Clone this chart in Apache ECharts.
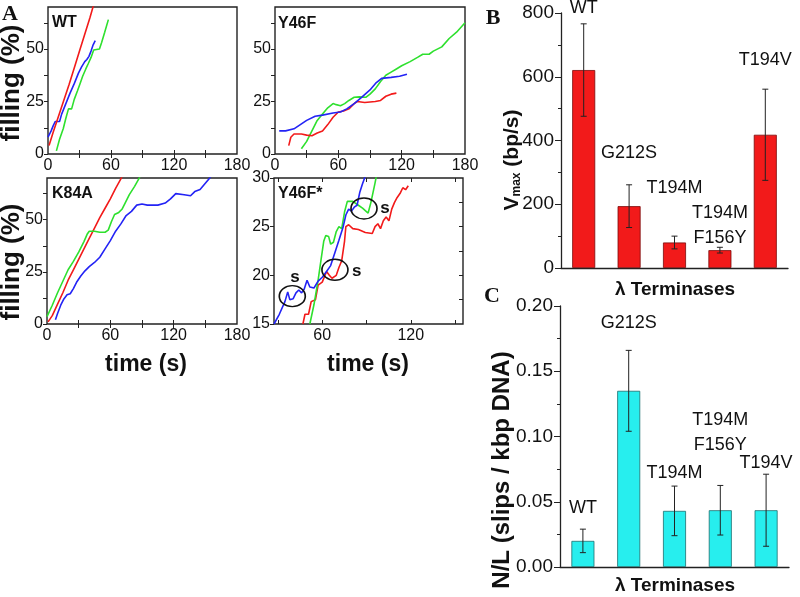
<!DOCTYPE html>
<html><head><meta charset="utf-8">
<script src="https://cdn.jsdelivr.net/npm/echarts@6/dist/echarts.min.js"></script>
<style>html,body{margin:0;padding:0;background:#fff}#c{width:800px;height:597px}</style>
</head><body><div id="c"></div>
<script>
// ---------- Panel A data (time s, filling %) ----------
const wtRed = [[1,4],[5,10.5],[10,18],[15,25.5],[20,33],[25,41],[30,49],[35,57],[40,65],[44,72]];
const wtBlue = [[0,8],[3,11],[5,13.5],[7,15.5],[11,15.5],[13,19],[17,24],[21,29],[25,33.5],[29,38.5],[32,41.5],[35,44],[37,45],[39,46.5],[41,49],[43,52],[45,54]];
const wtGreen = [[8,1.5],[11,7],[14.5,12],[17,17],[19.5,21.5],[22.5,21.5],[25,26],[28,30],[30.5,33.5],[33,37],[36,40.5],[38.5,43.2],[41,46],[43.5,49.5],[45,50],[49,50],[51,53],[54,58],[57.5,64]];

const y46fRed = [[13,4],[15,8],[18,9.5],[25,9.5],[30,9],[35,8.7],[40,10],[45,11],[50,14],[55,17.5],[60,20],[65,20.5],[70,21.5],[75,24],[78,25],[85,24.5],[95,25],[100,25.5],[105,27.5],[110,28.5],[115,29]];
const y46fBlue = [[4,11],[10,11],[18,12],[24,14],[30,16],[38,18],[45,18.5],[55,19.5],[62,20],[68,21.5],[75,24],[82,27],[90,30.5],[96,34],[101,36],[110,36.5],[118,37],[125,38]];
const y46fGreen = [[25,2.5],[30,6],[35,11],[40,16],[45,19],[50,22],[55,24],[58,23.5],[62,23],[66,24],[70,25.5],[75,27],[80,27.2],[86,27],[90,28.5],[95,31],[100,34.5],[105,37.5],[110,39],[115,40.5],[120,42],[128,44],[135,46],[140,47.5],[146,47.5],[150,49],[158,51],[165,55],[172,58],[180,62.5]];

const k84aRed = [[1,1],[5,4],[10,9.5],[15,15],[20,21],[25,26],[30,31],[35,36],[40,41],[45,46],[50,51],[55,55.5],[60,60],[65,65],[71,70.5]];
const k84aGreen = [[0,3.5],[5,9],[10,15],[15,20.5],[20,26],[25,30],[30,34.5],[35,39.5],[38,43],[40,44.5],[45,44.5],[50,44],[55,44],[58,45],[61,49],[64,52.5],[68,53.5],[71,55],[74,58],[78,62],[83,66],[88,70.5]];
const k84aBlue = [[8,2],[10,5],[13,9],[16,12],[19,14],[22,14.5],[25,17],[28,20],[32,23],[36,25.5],[40,27.5],[45,29.5],[50,32],[55,36],[60,40],[65,44.5],[70,48],[75,52],[80,54],[85,57],[90,57.5],[95,57],[100,57],[105,57],[112,58],[117,60],[122,62.5],[130,62],[136,61.5],[140,63.5],[145,64.5],[150,67.5],[155,70.5]];

const y46fsBlue = [[27.3,15],[30.9,16],[34.7,17.3],[36.6,18.3],[38,17.5],[40.3,17.6],[42.2,18.2],[44.1,18.5],[46,18.2],[47.8,18.6],[49.7,19.5],[51.6,18.8],[54.4,18.7],[57.2,19.4],[60,19.8],[62.9,20.4],[65.7,21],[68.5,22.3],[71.3,23.6],[74.2,25],[76,26.2],[77.9,26.8],[79.8,26.6],[81.7,27],[83.6,27.2],[85.4,28.5],[87.3,29.4],[89.2,30.2]];
const y46fsRed = [[46.9,15],[48.3,16],[50.7,16],[52.5,17.3],[55.4,17.5],[57.2,19],[60,19.3],[62.9,20.4],[64.8,20],[66.6,19.7],[69.5,20],[71.3,20.8],[73.2,21.5],[75.1,23.5],[76,25],[77.9,25.2],[80.7,24.8],[84.5,24.7],[89.2,24.4],[93.9,24.3],[95.8,25],[97.7,25.3],[99.5,24.8],[101.4,25.6],[103.3,26],[105.2,25.6],[107.1,26.8],[109,27.5],[110.8,28],[112.7,28.4],[114.6,29],[116.5,28.8],[118.3,29.2]];
const y46fsGreen = [[51.6,15],[54.4,17],[57.2,19.5],[59.1,21.5],[61,23.5],[62.4,24.1],[64.3,24],[65.7,23.2],[67.6,23.4],[69.5,24.5],[71.3,25],[73.2,24.8],[75.1,26.5],[77,27.6],[80.7,27.6],[84.5,27.2],[87.3,26.9],[91.1,26.4],[93,27.5],[95.8,29.5],[97.7,31]];
const slipCircles = [[39.7,17.86],[68.6,20.57],[88.3,26.87]];
const slipLabels = [[41.5,19.75],[83.3,20.4],[102.5,26.9]];

// ---------- Panel B / C data ----------
const terminases = ['WT','G212S','T194M','T194M\nF156Y','T194V'];
const vmax = [621, 194, 80, 56, 418];
const vmaxErr = [145, 67, 20, 9, 143];
const vmaxLabelY = [816, 360, 251, 132, 653];
const slips = [0.020, 0.135, 0.043, 0.0435, 0.0435];
const slipsErr = [0.009, 0.031, 0.019, 0.019, 0.0276];
const slipsLabelY = [0.045, 0.187, 0.072, 0.103, 0.0795];

const RED='#f21a1a', GREEN='#2ee02e', BLUE='#2323f5', INK='#111';
const FF = "'Liberation Sans', Arial, sans-serif";

const grids = [
  {left:48, top:7, width:189, height:147},
  {left:275, top:7, width:190, height:147},
  {left:47, top:178, width:190, height:146},
  {left:274, top:178, width:189, height:146},
  {left:561, top:13, width:227, height:255},
  {left:560, top:306, width:229, height:261}
];
grids.forEach((g,i)=>{ if(i<4){ g.show=true; g.borderColor='#222'; g.borderWidth=1.4; g.backgroundColor='transparent'; } });

const panels = [
  {xmin:0,xmax:180,xl:[0,60,120,180],xt:[30,60,90,120,150],ymin:0,ymax:70,yl:[0,25,50],yt:[12.5,25,37.5,50,62.5]},
  {xmin:0,xmax:180,xl:[0,60,120,180],xt:[30,60,90,120,150],ymin:0,ymax:70,yl:[0,25,50],yt:[12.5,25,37.5,50,62.5]},
  {xmin:0,xmax:180,xl:[0,60,120,180],xt:[30,60,90,120,150],ymin:0,ymax:70,yl:[0,25,50],yt:[12.5,25,37.5,50,62.5]},
  {xmin:27.3,xmax:155.4,xl:[60,120],xt:[30,60,90,120,150],ymin:15,ymax:30,yl:[15,20,25,30],yt:[17.5,20,22.5,25,27.5]}
];
const xAxes=[], yAxes=[];
const tickStyle={color:'#222',width:1};
panels.forEach((p,i)=>{
  xAxes.push({type:'value',gridIndex:i,min:p.xmin,max:p.xmax,position:'bottom',
    axisLine:{show:false},splitLine:{show:false},
    axisTick:{show:true,inside:true,length:4,customValues:p.xt,lineStyle:tickStyle},
    axisLabel:{customValues:p.xl,fontSize:16,color:INK,margin:4,fontFamily:FF}});
  xAxes.push({type:'value',gridIndex:i,min:p.xmin,max:p.xmax,position:'top',
    axisLine:{show:false},splitLine:{show:false},
    axisTick:{show:true,inside:true,length:4,customValues:p.xt,lineStyle:tickStyle},
    axisLabel:{show:false}});
  yAxes.push({type:'value',gridIndex:i,min:p.ymin,max:p.ymax,position:'left',
    axisLine:{show:false},splitLine:{show:false},
    axisTick:{show:true,inside:false,length:4,customValues:p.yl,lineStyle:tickStyle},
    axisLabel:{customValues:p.yl,fontSize:16,color:INK,margin:4,fontFamily:FF}});
  yAxes.push({type:'value',gridIndex:i,min:p.ymin,max:p.ymax,position:'right',
    axisLine:{show:false},splitLine:{show:false},
    axisTick:{show:true,inside:true,length:4,customValues:p.yt,lineStyle:tickStyle},
    axisLabel:{show:false}});
});
// B
xAxes.push({type:'category',gridIndex:4,data:terminases,
  axisLine:{lineStyle:{color:'#222',width:1.3}},axisTick:{alignWithLabel:true,length:6,lineStyle:tickStyle},
  axisLabel:{show:false},splitLine:{show:false}});
yAxes.push({type:'value',gridIndex:4,min:0,max:800,interval:200,
  axisLine:{show:true,lineStyle:{color:'#222',width:1.3}},splitLine:{show:false},
  axisTick:{show:true,length:6,lineStyle:tickStyle},minorTick:{show:true,splitNumber:2,length:3,lineStyle:tickStyle},
  axisLabel:{fontSize:19,color:INK,margin:7,fontFamily:FF}});
// C
xAxes.push({type:'category',gridIndex:5,data:terminases,
  axisLine:{lineStyle:{color:'#222',width:1.3}},axisTick:{alignWithLabel:true,length:6,lineStyle:tickStyle},
  axisLabel:{show:false},splitLine:{show:false}});
yAxes.push({type:'value',gridIndex:5,min:0,max:0.2,interval:0.05,
  axisLine:{show:true,lineStyle:{color:'#222',width:1.3}},splitLine:{show:false},
  axisTick:{show:true,length:6,lineStyle:tickStyle},minorTick:{show:true,splitNumber:2,length:3,lineStyle:tickStyle},
  axisLabel:{fontSize:19,color:INK,margin:7,fontFamily:FF,formatter:v=>v.toFixed(2)}});

function line(data,color,gi){
  return {type:'line',data:data,xAxisIndex:gi*2,yAxisIndex:gi*2,showSymbol:false,symbol:'none',
    clip:true,lineStyle:{color:color,width:1.6},silent:true,animation:false,z:3};
}
const series=[
  line(wtGreen,GREEN,0),line(wtBlue,BLUE,0),line(wtRed,RED,0),
  line(y46fGreen,GREEN,1),line(y46fRed,RED,1),line(y46fBlue,BLUE,1),
  line(k84aRed,RED,2),line(k84aGreen,GREEN,2),line(k84aBlue,BLUE,2),
  line(y46fsRed,RED,3),line(y46fsGreen,GREEN,3),line(y46fsBlue,BLUE,3),
  {type:'scatter',xAxisIndex:6,yAxisIndex:6,data:slipCircles,symbol:'circle',symbolSize:[26,21],
   itemStyle:{color:'rgba(0,0,0,0)',borderColor:'#111',borderWidth:1.5,opacity:1},z:5,silent:true},
  {type:'scatter',xAxisIndex:6,yAxisIndex:6,data:slipLabels,symbolSize:1,itemStyle:{color:'rgba(0,0,0,0)',opacity:1},
   label:{show:true,position:'inside',formatter:'s',fontSize:17,fontWeight:'bold',color:INK,fontFamily:FF},z:5,silent:true}
];
function errSeries(vals,errs,xi,yi){
  return {type:'custom',xAxisIndex:xi,yAxisIndex:yi,z:4,silent:true,
    data:vals.map((v,i)=>[i,v-errs[i],v+errs[i]]),
    renderItem:function(params,api){
      const lo=api.coord([api.value(0),api.value(1)]);
      const hi=api.coord([api.value(0),api.value(2)]);
      const w=3, st={stroke:'#222',lineWidth:1};
      return {type:'group',children:[
        {type:'line',shape:{x1:lo[0],y1:lo[1],x2:hi[0],y2:hi[1]},style:st},
        {type:'line',shape:{x1:lo[0]-w,y1:lo[1],x2:lo[0]+w,y2:lo[1]},style:st},
        {type:'line',shape:{x1:hi[0]-w,y1:hi[1],x2:hi[0]+w,y2:hi[1]},style:st}
      ]};
    }};
}
function labelSeries(ys,xi,yi){
  return {type:'scatter',xAxisIndex:xi,yAxisIndex:yi,clip:false,symbolSize:1,silent:true,
    itemStyle:{color:'rgba(0,0,0,0)',opacity:1},z:6,
    data:ys.map((y,i)=>[i,y,terminases[i]]),
    label:{show:true,position:'inside',formatter:p=>p.data[2],fontSize:18,lineHeight:25,color:INK,fontFamily:FF}};
}
series.push({type:'bar',xAxisIndex:8,yAxisIndex:8,data:vmax,barWidth:23,
  itemStyle:{color:RED,borderColor:'#7a0a0a',borderWidth:0.8},silent:true});
series.push(errSeries(vmax,vmaxErr,8,8));
series.push(labelSeries(vmaxLabelY,8,8));
series.push({type:'bar',xAxisIndex:9,yAxisIndex:9,data:slips,barWidth:23,
  itemStyle:{color:'#27eeee',borderColor:'#1d6f6f',borderWidth:0.8},silent:true});
series.push(errSeries(slips,slipsErr,9,9));
series.push(labelSeries(slipsLabelY,9,9));

function txt(x,y,text,size,opts){
  return Object.assign({type:'text',x:x,y:y,z:10,style:Object.assign({text:text,fontSize:size,fontWeight:'bold',
    fill:INK,fontFamily:FF,align:'center',verticalAlign:'middle'},(opts&&opts.style)||{})},(opts&&opts.el)||{});
}
const R90={el:{rotation:Math.PI/2}};
const SERIF="'Liberation Serif', 'Times New Roman', serif";
const graphic=[
  txt(10,14,'A',22,{style:{fontFamily:SERIF}}),
  txt(493,18,'B',22,{style:{fontFamily:SERIF}}),
  txt(492,296,'C',22,{style:{fontFamily:SERIF}}),
  txt(52,23,'WT',16,{style:{align:'left'}}),
  txt(278,24,'Y46F',16,{style:{align:'left'}}),
  txt(52,194,'K84A',16,{style:{align:'left'}}),
  txt(278,194,'Y46F*',16,{style:{align:'left'}}),
  txt(12,83,'filling (%)',26,R90),
  txt(12,262,'filling (%)',26,R90),
  txt(146,365,'time (s)',23),
  txt(368,365,'time (s)',23),
  txt(509,160,'{b|V}{s|max}{b| (bp/s)}',21,{el:{rotation:Math.PI/2},style:{rich:{
    b:{fontSize:21,fontWeight:'bold',fontFamily:FF,fill:INK,lineHeight:28,verticalAlign:'bottom'},
    s:{fontSize:12,fontWeight:'bold',fontFamily:FF,fill:INK,lineHeight:28,verticalAlign:'bottom'}}}}),
  txt(502,470,'N/L (slips / kbp DNA)',24,R90),
  txt(675,290,'λ Terminases',19),
  txt(675,586,'λ Terminases',19)
];

const chart=echarts.init(document.getElementById('c'),null,{renderer:'canvas'});
chart.setOption({animation:false,backgroundColor:'#fff',grid:grids,xAxis:xAxes,yAxis:yAxes,series:series,graphic:graphic});
</script></body></html>
